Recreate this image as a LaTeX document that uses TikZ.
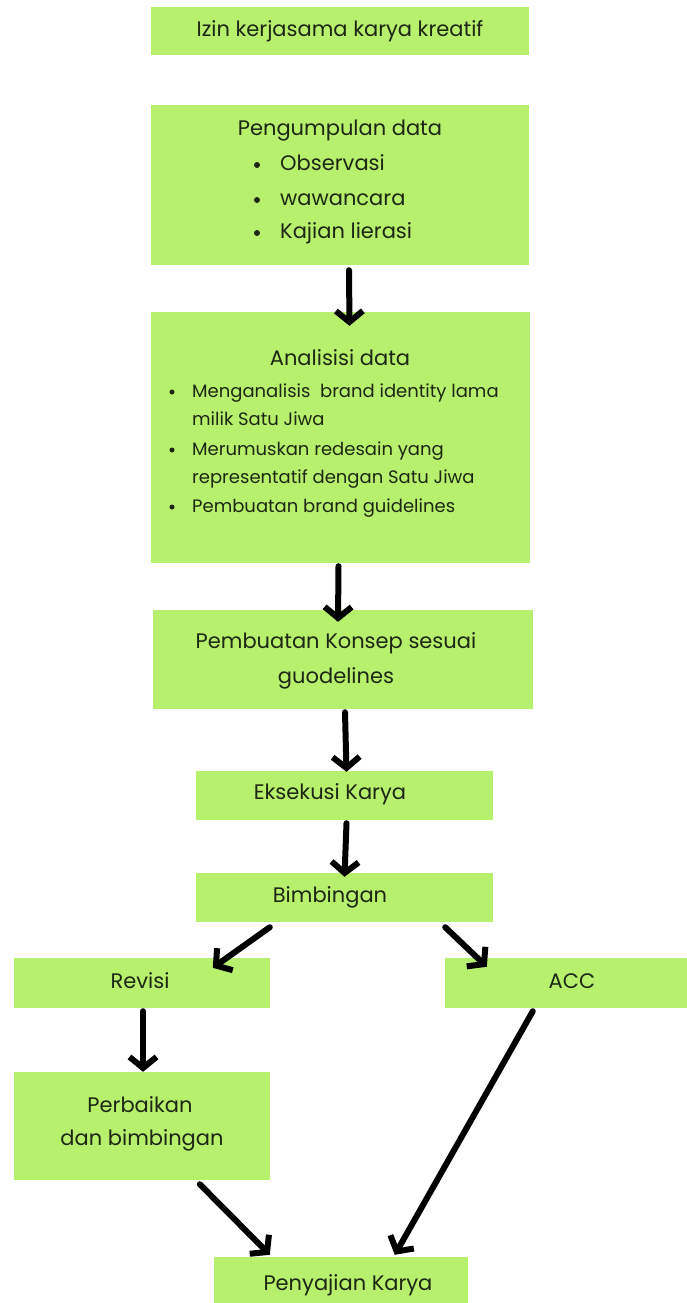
\documentclass[tikz,border=0pt]{standalone}
\usepackage{fontspec}
\setmainfont{Poppins}
\usetikzlibrary{arrows.meta}
\definecolor{boxgreen}{RGB}{183,240,108}
\definecolor{txt}{RGB}{28,40,20}
\tikzset{
  box/.style={rectangle, fill=boxgreen, draw=none, inner sep=0pt},
  lbl/.style={inner sep=0pt, text=txt, font=\fontsize{21}{25}\selectfont, text height=0.7em, text depth=0.2em},
  small/.style={inner sep=0pt, text=txt, font=\fontsize{18}{21}\selectfont, text height=0.7em, text depth=0.2em},
  bul/.style={circle, fill=txt, inner sep=0pt, minimum size=#1},
  arr/.style={line width=6pt, draw=black, line cap=round, line join=round, -{Straight Barb[length=11pt,width=27pt]}}
}
\begin{document}
\begin{tikzpicture}[x=1pt,y=-1pt]
\useasboundingbox[fill=white] (0,0) rectangle (687,1303);
% boxes
\node[box, minimum width=378, minimum height=48] (izin) at (340,31) {};
\node[box, minimum width=378, minimum height=160] (peng) at (340,185) {};
\node[box, minimum width=379, minimum height=251] (anal) at (340.5,437.5) {};
\node[box, minimum width=380, minimum height=99] (kons) at (343,659.5) {};
\node[box, minimum width=297, minimum height=49] (eks) at (344.5,795.5) {};
\node[box, minimum width=297, minimum height=49] (bim) at (344.5,897.5) {};
\node[box, minimum width=256, minimum height=50] (rev) at (142,983) {};
\node[box, minimum width=242, minimum height=50] (acc) at (566,983) {};
\node[box, minimum width=256, minimum height=108] (perb) at (142,1126) {};
\node[box, minimum width=254, minimum height=46] (peny) at (341,1280) {};
% texts
\node[lbl] (izinT) at (340,34) {Izin kerjasama karya kreatif};
\node[lbl] (pengT) at (340,133) {Pengumpulan data};
\node[bul=6pt] (pb1) at (257,165) {};
\node[lbl, anchor=west] (pt1) at (280,168) {Observasi};
\node[bul=6pt] (pb2) at (257,200) {};
\node[lbl, anchor=west] (pt2) at (280,203) {wawancara};
\node[bul=6pt] (pb3) at (257,233) {};
\node[lbl, anchor=west] (pt3) at (280,236) {Kajian lierasi};
\node[lbl] (analT) at (340,363) {Analisisi data};
\node[bul=5pt] (ab1) at (172,392) {};
\node[small, anchor=west] (at1) at (192,395) {Menganalisis\ \ brand identity lama};
\node[small, anchor=west] (at1b) at (192,423) {milik Satu Jiwa};
\node[bul=5pt] (ab2) at (172,450) {};
\node[small, anchor=west] (at2) at (192,453) {Merumuskan redesain yang};
\node[small, anchor=west] (at2b) at (192,481) {representatif dengan Satu Jiwa};
\node[bul=5pt] (ab3) at (172,507) {};
\node[small, anchor=west] (at3) at (192,510) {Pembuatan brand guidelines};
\node[lbl] (konsT1) at (336,646) {Pembuatan Konsep sesuai};
\node[lbl] (konsT2) at (336,681) {guodelines};
\node[lbl] (eksT) at (330,797) {Eksekusi Karya};
\node[lbl] (bimT) at (330,900) {Bimbingan};
\node[lbl] (revT) at (140,986) {Revisi};
\node[lbl] (accT) at (572,986) {ACC};
\node[lbl] (perbT1) at (140,1110) {Perbaikan};
\node[lbl] (perbT2) at (142,1143) {dan bimbingan};
\node[lbl] (penyT) at (348,1288) {Penyajian Karya};
% connector end points
\coordinate (c1s) at ([xshift=9pt,yshift=-5pt]peng.south);
\coordinate (c1e) at ([xshift=9pt,yshift=-14pt]anal.north);
\coordinate (c2s) at ([xshift=-2pt,yshift=-3pt]anal.south);
\coordinate (c2e) at ([xshift=-5pt,yshift=-12pt]kons.north);
\coordinate (c3s) at ([xshift=2pt,yshift=-3pt]kons.south);
\coordinate (c3e) at ([xshift=2pt,yshift=-1pt]eks.north);
\coordinate (c4s) at ([xshift=2pt,yshift=-3pt]eks.south);
\coordinate (c4e) at ([xshift=0pt,yshift=-4pt]bim.north);
\coordinate (c5s) at ([xshift=74pt,yshift=-5pt]bim.south west);
\coordinate (c5e) at ([xshift=199pt,yshift=-10pt]rev.north west);
\coordinate (c6s) at ([xshift=-48pt,yshift=-5pt]bim.south east);
\coordinate (c6e) at ([xshift=42pt,yshift=-9pt]acc.north west);
\coordinate (c7s) at ([xshift=1pt,yshift=-3pt]rev.south);
\coordinate (c7e) at ([xshift=1pt,yshift=0pt]perb.north);
\coordinate (c8s) at ([xshift=88pt,yshift=-3pt]acc.south west);
\coordinate (c8e) at ([xshift=181pt,yshift=2pt]peny.north west);
\coordinate (c9s) at ([xshift=186pt,yshift=-4pt]perb.south west);
\coordinate (c9e) at ([xshift=56pt,yshift=2pt]peny.north west);
% connectors
\draw[arr] (c1s) -- (c1e);
\draw[arr] (c2s) -- (c2e);
\draw[arr] (c3s) -- (c3e);
\draw[arr] (c4s) -- (c4e);
\draw[arr] (c5s) -- (c5e);
\draw[arr] (c6s) -- (c6e);
\draw[arr] (c7s) -- (c7e);
\draw[arr] (c8s) -- (c8e);
\draw[arr] (c9s) -- (c9e);
\end{tikzpicture}
\end{document}
